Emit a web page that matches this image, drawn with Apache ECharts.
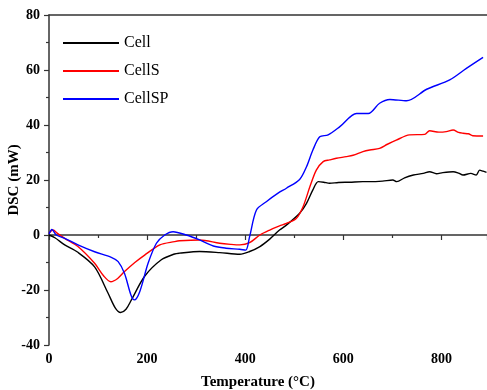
<!DOCTYPE html>
<html>
<head>
<meta charset="utf-8">
<script src="https://cdn.jsdelivr.net/npm/echarts@6/dist/echarts.min.js"></script>
<style>
  html, body { margin: 0; padding: 0; background: #fff; }
  #chart { width: 487px; height: 390px; }
</style>
</head>
<body>
<div id="chart"></div>
<script>
// DSC curves as [temperature, mW]
const seriesNames = ['Cell', 'CellS', 'CellSP']
const seriesColors = ['#000000', '#ff0000', '#0000ff']

const cell = [
  [0, 0], [12, -1], [32, -3.6], [58, -6.2], [93, -11.6], [120, -21], [135, -26.5], [146, -28.2],
  [157, -27], [168, -23.6], [195, -15], [229, -9], [256, -6.9], [266, -6.6], [307, -6],
  [348, -6.4], [389, -7], [409, -6], [430, -4.2], [450, -1.5], [470, 1.8], [484, 3.6],
  [511, 7.9], [525, 11.5], [538, 16.4], [549, 19.4], [560, 19.2], [572, 18.8], [590, 19.1],
  [613, 19.2], [640, 19.4], [654, 19.4], [680, 19.6], [701, 20], [709, 19.4], [725, 20.8],
  [743, 21.8], [763, 22.4], [776, 23], [790, 22.3], [803, 22.7], [824, 23], [835, 22.5],
  [844, 21.8], [860, 22.4], [871, 21.8], [878, 23.6], [885, 23.2], [892, 22.8]
]

const cellS = [
  [0, 0.6], [8, 1.8], [18, 0.5], [32, -1.2], [59, -4.2], [93, -10.3], [112, -15], [126, -17],
  [140, -15.8], [154, -13.3], [175, -10], [195, -7.3], [226, -3.6], [256, -2.4], [266, -2.1],
  [307, -1.8], [348, -3], [370, -3.4], [389, -3.6], [409, -2.8], [430, 0], [450, 1.8],
  [470, 3.3], [484, 4.2], [504, 6], [518, 10.3], [532, 17.6], [545, 23.6], [559, 26.7],
  [572, 27.3], [586, 27.9], [606, 28.5], [620, 29], [640, 30.3], [654, 30.9], [674, 31.5],
  [690, 33], [708, 34.5], [735, 36.4], [766, 36.6], [776, 37.9], [795, 37.4], [810, 37.6],
  [824, 38.2], [835, 37.3], [844, 37], [855, 36.8], [864, 36.1], [885, 36]
]

const cellSP = [
  [0, 0.4], [6, 2], [15, 0], [32, -1.2], [59, -3.6], [93, -6.1], [127, -8.1], [141, -9.7],
  [154, -14], [167, -21.8], [174, -23.6], [185, -20.6], [202, -10.3], [219, -3], [236, 0],
  [253, 1.2], [280, 0], [307, -1.8], [335, -4], [361, -4.8], [389, -5.2], [401, -5.5],
  [409, -0.6], [423, 9.1], [443, 12.1], [467, 15.2], [484, 17], [511, 20.2], [525, 24.8],
  [538, 30.9], [552, 35.7], [569, 36.4], [593, 39.4], [627, 44.2], [651, 44.2], [674, 47.9],
  [695, 49.3], [729, 48.8], [770, 53], [817, 56.4], [851, 60.6], [885, 64.6]
]

const xTicks = [0, 200, 400, 600, 800]
const yTicks = [-40, -20, 0, 20, 40, 60, 80]

const serif = '"Liberation Serif", "DejaVu Serif", serif'
const axisColor = '#333'

const chart = echarts.init(document.getElementById('chart'))

const option = {
  animation: false,
  grid: { left: 49, top: 15, width: 438, height: 330, containLabel: false, outerBoundsMode: 'none' },
  legend: {
    orient: 'vertical',
    left: 63,
    top: 35,
    padding: 0,
    itemWidth: 56,
    itemHeight: 2,
    itemGap: 12,
    icon: 'rect',
    data: seriesNames,
    textStyle: { fontFamily: serif, fontSize: 16, color: '#000' }
  },
  xAxis: [
    {
      type: 'value',
      min: 0,
      max: 893,
      interval: 200,
      name: 'Temperature (°C)',
      nameLocation: 'middle',
      nameGap: 30,
      nameMoveOverlap: false,
      nameTextStyle: { fontFamily: serif, fontWeight: 'bold', fontSize: 15, color: '#000', padding: [0, 20, 0, 0] },
      axisLine: { lineStyle: { color: axisColor, width: 1.5 } },
      axisTick: { inside: false, length: 5, lineStyle: { color: axisColor, width: 1.2 } },
      minorTick: { show: true, splitNumber: 2, length: 3, lineStyle: { color: axisColor, width: 1.2 } },
      axisLabel: {
        fontFamily: serif, fontWeight: 'bold', fontSize: 14, color: '#000', margin: 7,
        showMaxLabel: false,
        formatter: v => (xTicks.includes(v) ? String(v) : '')
      },
      splitLine: { show: false }
    },
    {
      type: 'value',
      position: 'top',
      min: 0,
      max: 893,
      axisLine: { show: true, onZero: false, lineStyle: { color: axisColor, width: 1.5 } },
      axisTick: { show: false },
      axisLabel: { show: false },
      splitLine: { show: false }
    }
  ],
  yAxis: {
    type: 'value',
    min: -40,
    max: 80,
    interval: 20,
    name: 'DSC (mW)',
    nameLocation: 'middle',
    nameGap: 27,
    nameMoveOverlap: false,
    nameTextStyle: { fontFamily: serif, fontWeight: 'bold', fontSize: 15, color: '#000' },
    axisLine: { show: true, onZero: false, lineStyle: { color: axisColor, width: 1.5 } },
    axisTick: { inside: false, length: 5, lineStyle: { color: axisColor, width: 1.2 } },
    minorTick: { show: true, splitNumber: 2, length: 3, lineStyle: { color: axisColor, width: 1.2 } },
    axisLabel: {
      fontFamily: serif, fontWeight: 'bold', fontSize: 14, color: '#000', margin: 9,
      formatter: v => (yTicks.includes(v) ? String(v) : '')
    },
    splitLine: { show: false }
  },
  series: [cell, cellS, cellSP].map((data, i) => ({
    name: seriesNames[i],
    type: 'line',
    data: data,
    smooth: 0.3,
    showSymbol: false,
    symbol: 'none',
    color: seriesColors[i],
    lineStyle: { width: 1.4, color: seriesColors[i] }
  }))
}

chart.setOption(option)
</script>
</body>
</html>
